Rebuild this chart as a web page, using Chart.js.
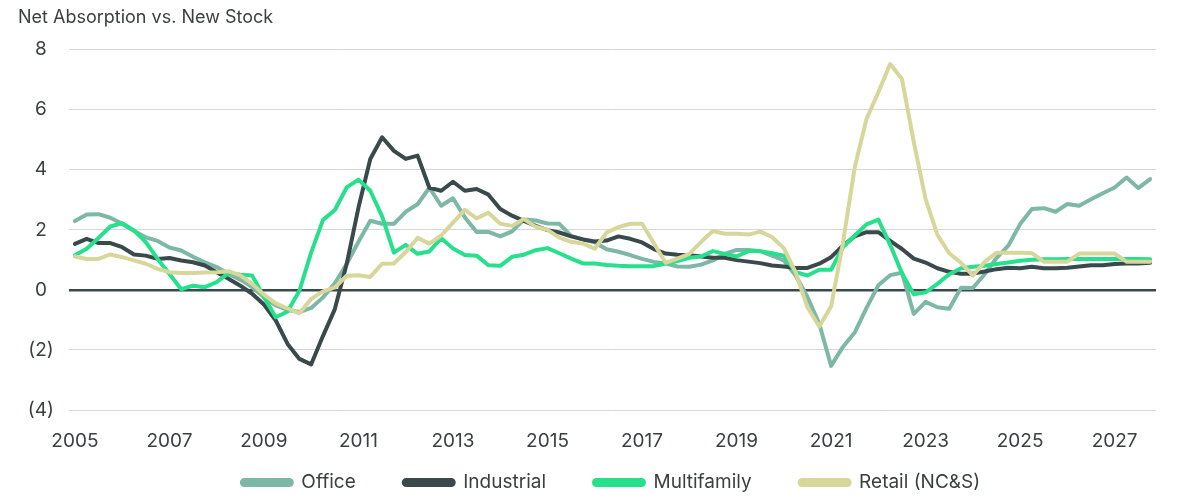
<!DOCTYPE html>
<html>
<head>
<meta charset="utf-8">
<script src="https://cdn.jsdelivr.net/npm/chart.js@4.4.1/dist/chart.umd.min.js"></script>
<style>
  html, body { margin: 0; padding: 0; background: #ffffff; }
  #wrap { position: relative; width: 1200px; height: 500px; }
</style>
</head>
<body>
<div id="wrap"><canvas id="c"></canvas></div>
<script>
// ---- Data (quarterly, 2005Q1 .. 2027Q4) ----
const years = ['2005','2006','2007','2008','2009','2010','2011','2012','2013','2014','2015','2016',
               '2017','2018','2019','2020','2021','2022','2023','2024','2025','2026','2027'];
const quarterNames = ['Q1','Q2','Q3','Q4'];
const categories = [];
years.forEach(y => quarterNames.forEach(q => categories.push(y + q)));

const xTickLabels = ['2005','2007','2009','2011','2013','2015','2017','2019','2021','2023','2025','2027'];
const yTickValues = [8, 6, 4, 2, 0, -2, -4];

const office = [
  2.29, 2.51, 2.52, 2.40, 2.20, 1.96, 1.75, 1.63, 1.41, 1.31, 1.10, 0.92,
  0.76, 0.53, 0.34, 0.09, -0.24, -0.52, -0.67, -0.74, -0.60, -0.25, 0.22, 0.86,
  1.60, 2.30, 2.20, 2.20, 2.60, 2.85, 3.40, 2.80, 3.05, 2.42, 1.93, 1.93,
  1.78, 1.95, 2.34, 2.31, 2.21, 2.20, 1.80, 1.68, 1.58, 1.35, 1.27, 1.16,
  1.03, 0.93, 0.88, 0.78, 0.77, 0.84, 0.98, 1.20, 1.33, 1.33, 1.29, 1.14,
  0.98, 0.48, -0.24, -1.13, -2.53, -1.90, -1.42, -0.60, 0.15, 0.49, 0.57, -0.80,
  -0.40, -0.58, -0.63, 0.07, 0.06, 0.52, 1.06, 1.47, 2.19, 2.69, 2.72, 2.60,
  2.86, 2.80, 3.02, 3.22, 3.41, 3.74, 3.39, 3.69
];
const industrial = [
  1.53, 1.70, 1.56, 1.56, 1.42, 1.18, 1.14, 1.03, 1.06, 0.98, 0.92, 0.81,
  0.59, 0.37, 0.14, -0.13, -0.49, -1.02, -1.80, -2.30, -2.48, -1.53, -0.64, 0.86,
  2.74, 4.36, 5.08, 4.63, 4.36, 4.47, 3.40, 3.30, 3.60, 3.30, 3.36, 3.17,
  2.69, 2.47, 2.30, 2.13, 1.99, 1.91, 1.78, 1.68, 1.61, 1.64, 1.78, 1.70,
  1.58, 1.36, 1.21, 1.17, 1.15, 1.11, 1.07, 1.07, 0.99, 0.94, 0.89, 0.81,
  0.78, 0.73, 0.73, 0.87, 1.09, 1.47, 1.78, 1.92, 1.92, 1.63, 1.36, 1.04,
  0.91, 0.72, 0.60, 0.54, 0.54, 0.61, 0.69, 0.74, 0.72, 0.77, 0.72, 0.72,
  0.74, 0.78, 0.82, 0.82, 0.86, 0.88, 0.88, 0.90
];
const multifamily = [
  1.15, 1.37, 1.73, 2.11, 2.22, 1.98, 1.59, 1.03, 0.53, 0.02, 0.14, 0.09,
  0.26, 0.56, 0.50, 0.48, -0.24, -0.91, -0.72, -0.03, 1.25, 2.33, 2.66, 3.41,
  3.67, 3.30, 2.45, 1.24, 1.50, 1.20, 1.28, 1.72, 1.38, 1.16, 1.14, 0.82,
  0.80, 1.10, 1.17, 1.32, 1.39, 1.22, 1.04, 0.88, 0.88, 0.83, 0.80, 0.79,
  0.79, 0.79, 0.88, 0.96, 1.07, 1.11, 1.29, 1.20, 1.11, 1.29, 1.29, 1.22,
  1.14, 0.59, 0.48, 0.67, 0.67, 1.42, 1.81, 2.18, 2.34, 1.50, 0.55, -0.15,
  -0.08, 0.20, 0.52, 0.72, 0.77, 0.80, 0.86, 0.91, 0.97, 1.00, 1.02, 1.02,
  1.03, 1.03, 1.03, 1.03, 1.03, 1.03, 1.03, 1.02
];
const retail = [
  1.11, 1.03, 1.03, 1.18, 1.09, 0.98, 0.87, 0.70, 0.59, 0.56, 0.56, 0.58,
  0.59, 0.62, 0.48, 0.20, -0.16, -0.45, -0.62, -0.78, -0.30, -0.05, 0.08, 0.47,
  0.49, 0.43, 0.87, 0.88, 1.26, 1.73, 1.54, 1.81, 2.24, 2.66, 2.38, 2.57,
  2.20, 2.13, 2.36, 2.10, 2.00, 1.74, 1.60, 1.54, 1.37, 1.91, 2.09, 2.20,
  2.20, 1.55, 0.90, 1.04, 1.20, 1.60, 1.96, 1.87, 1.87, 1.84, 1.94, 1.76,
  1.39, 0.58, -0.58, -1.22, -0.55, 1.55, 4.08, 5.69, 6.58, 7.52, 7.02, 4.92,
  3.02, 1.83, 1.22, 0.90, 0.48, 0.93, 1.24, 1.24, 1.24, 1.22, 0.94, 0.94,
  0.94, 1.21, 1.21, 1.21, 1.21, 0.94, 0.94, 0.94
];

const seriesNames = ['Office', 'Industrial', 'Multifamily', 'Retail (NC&S)'];
const seriesColors = ['#7db8a6', '#3a4a4c', '#26e08c', '#d7d69b'];

// ---- Chart ----
const FONT = 'Inter, "Noto Sans", Roboto, sans-serif';
const TEXT = '#3a3f40';
const LEGEND_GAP = '\u2003\u2003';  // visual spacing after each legend item (except the last)
const LEGEND_SHIFT = 24;            // legend is centred slightly right of the canvas centre

function mkSet(i, data, order) {
  return {
    label: seriesNames[i],
    data: data,
    borderColor: seriesColors[i],
    backgroundColor: seriesColors[i],
    borderWidth: 4,
    pointRadius: 0,
    pointHoverRadius: 0,
    tension: 0,
    borderJoinStyle: 'round',
    borderCapStyle: 'round',
    fill: false,
    order: order
  };
}

const legendShift = {
  id: 'legendShift',
  afterLayout(chart) {
    if (chart.legend) {
      chart.legend.left += LEGEND_SHIFT;
      chart.legend.right += LEGEND_SHIFT;
    }
  }
};

new Chart(document.getElementById('c'), {
  type: 'line',
  data: {
    labels: categories,
    datasets: [
      mkSet(0, office, 4),
      mkSet(1, industrial, 3),
      mkSet(2, multifamily, 2),
      mkSet(3, retail, 1)
    ]
  },
  plugins: [legendShift],
  options: {
    responsive: true,
    maintainAspectRatio: false,
    animation: false,
    layout: { padding: { left: 18, right: 44, top: 0, bottom: -2 } },
    plugins: {
      title: {
        display: true,
        text: 'Net Absorption vs. New Stock',
        align: 'start',
        color: TEXT,
        font: { family: FONT, size: 18, weight: 'normal' },
        padding: { top: 7, bottom: 21 }
      },
      legend: {
        display: true,
        position: 'bottom',
        labels: {
          sort: (a, b) => a.datasetIndex - b.datasetIndex,
          generateLabels: (chart) => {
            const items = Chart.defaults.plugins.legend.labels.generateLabels(chart);
            const last = seriesNames.length - 1;
            items.forEach((it) => { if (it.datasetIndex < last) it.text = it.text + LEGEND_GAP; });
            return items;
          },
          boxWidth: 50,
          boxHeight: 5,
          useBorderRadius: true,
          borderRadius: 2.5,
          padding: 10,
          color: TEXT,
          font: { family: FONT, size: 19 }
        }
      },
      tooltip: { enabled: false }
    },
    scales: {
      x: {
        type: 'category',
        offset: true,
        grid: { display: false, drawTicks: false },
        border: { display: false },
        afterFit: (scale) => { scale.height = 53; },
        ticks: {
          autoSkip: false,
          maxRotation: 0,
          minRotation: 0,
          padding: 20,
          color: TEXT,
          font: { family: FONT, size: 19 },
          callback: function (val, idx) {
            const lab = categories[idx];
            const y = lab.slice(0, 4);
            return (lab.endsWith('Q1') && xTickLabels.includes(y)) ? y : '';
          }
        }
      },
      y: {
        min: -4,
        max: 8,
        afterBuildTicks: (scale) => { scale.ticks = yTickValues.map(v => ({ value: v })); },
        afterFit: (scale) => { scale.width = 51; },
        grid: {
          drawTicks: false,
          color: (ctx) => (ctx.tick && ctx.tick.value === 0) ? '#3a4a4c' : '#d6d6d6',
          lineWidth: (ctx) => (ctx.tick && ctx.tick.value === 0) ? 2.5 : 1
        },
        border: { display: false },
        ticks: {
          crossAlign: 'center',
          padding: 15,
          color: TEXT,
          font: { family: FONT, size: 19 },
          callback: (v) => v < 0 ? '(' + (-v) + ')' : String(v)
        }
      }
    }
  }
});
</script>
</body>
</html>
